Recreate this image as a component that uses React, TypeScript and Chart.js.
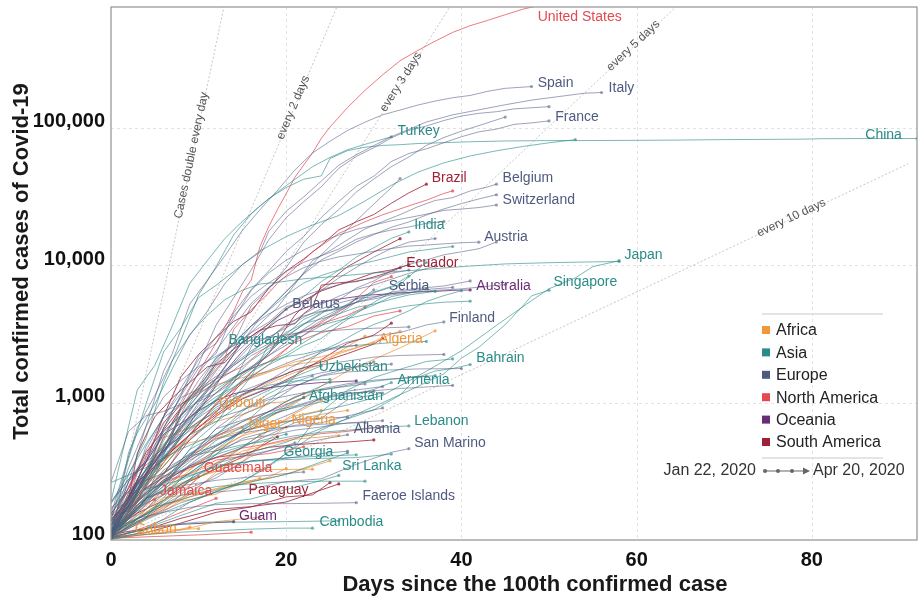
import React, { useEffect, useRef } from "react";
import { Chart, registerables } from "chart.js";

Chart.register(...registerables);

type Series = [string, number[]];

const FONT = '"Liberation Sans", Arial, Helvetica, sans-serif';

const X_TICKS = [0, 20, 40, 60, 80];
const Y_TICKS = [100, 1000, 10000, 100000];
const X_MAX = 92;
const Y_MIN = 100;
const Y_MAX = 760000;

const X_TITLE = "Days since the 100th confirmed case";
const Y_TITLE = "Total confirmed cases of Covid-19";

const CONTINENTS = ["Africa", "Asia", "Europe", "North America", "Oceania", "South America"];

// [country, [day, cases, day, cases, ...]]
const AFRICA: Series[] = [
  ["South Africa", [0, 116, 2, 202, 4, 274, 6, 554, 8, 927, 10, 1187, 12, 1353, 14, 1462, 16, 1585, 18, 1686, 20, 1845, 22, 1934, 24, 2028, 26, 2272, 28, 2506, 30, 2783, 32, 3158, 33, 3300]],
  ["Egypt", [0, 109, 3, 196, 6, 285, 9, 327, 12, 456, 15, 576, 18, 779, 21, 985, 24, 1322, 27, 1699, 30, 2065, 33, 2505, 37, 3333]],
  ["Morocco", [0, 115, 3, 225, 6, 345, 9, 556, 12, 791, 15, 1120, 18, 1374, 21, 1661, 24, 1888, 27, 2564, 29, 3046]],
  ["Algeria", [0, 139, 3, 230, 6, 367, 9, 584, 12, 986, 15, 1423, 18, 1666, 21, 1983, 24, 2160, 27, 2418, 30, 2718]],
  ["Cameroon", [0, 139, 3, 233, 6, 555, 9, 658, 12, 730, 15, 820, 18, 996, 20, 1017, 22, 1163]],
  ["Ghana", [0, 137, 3, 152, 6, 204, 9, 214, 12, 313, 15, 408, 18, 636, 21, 834, 24, 1042]],
  ["Cote d'Ivoire", [0, 101, 3, 168, 6, 218, 9, 323, 12, 444, 15, 574, 18, 654, 21, 801, 24, 879]],
  ["Tunisia", [0, 114, 3, 227, 6, 312, 9, 394, 12, 553, 15, 623, 18, 685, 21, 743, 24, 822, 27, 879]],
  ["Guinea", [0, 111, 3, 144, 6, 194, 9, 250, 12, 363, 15, 477, 17, 579]],
  ["Burkina Faso", [0, 114, 3, 180, 6, 261, 9, 302, 12, 364, 15, 443, 18, 497, 21, 542, 26, 576]],
  ["Senegal", [0, 105, 3, 130, 6, 175, 9, 207, 12, 237, 15, 265, 18, 280, 21, 314, 25, 377]],
  ["DR Congo", [0, 109, 3, 134, 6, 161, 9, 215, 12, 235, 15, 254, 18, 287, 20, 332]],
  ["Mauritius", [0, 102, 3, 143, 6, 196, 9, 273, 12, 318, 15, 324, 18, 325, 23, 328]],
  ["Kenya", [0, 122, 3, 142, 6, 184, 9, 197, 12, 216, 15, 262, 17, 281]],
  ["Niger", [0, 120, 2, 163, 4, 253, 6, 342, 8, 491, 10, 529, 12, 570, 15, 657]],
  ["Nigeria", [0, 111, 3, 174, 6, 232, 9, 276, 12, 318, 15, 373, 18, 542, 20, 665]],
  ["Djibouti", [0, 135, 2, 187, 4, 298, 6, 363, 8, 591, 10, 732, 12, 846]],
  ["Gabon", [0, 102, 3, 108, 6, 112, 9, 124]],
  ["Mali", [0, 116, 3, 144, 6, 171, 9, 216, 11, 224]],
  ["Rwanda", [0, 102, 4, 110, 8, 118, 12, 136, 17, 147]],
  ["Madagascar", [0, 102, 5, 117, 10, 121]],
];

const ASIA: Series[] = [
  ["China", [0, 120, 2, 300, 4, 548, 6, 1406, 8, 2877, 10, 6087, 12, 9802, 14, 16630, 16, 23707, 18, 30587, 20, 36814, 22, 42354, 24, 44759, 25, 59895, 27, 68413, 29, 72434, 31, 74619, 33, 75550, 35, 77022, 37, 77754, 39, 78600, 41, 79356, 45, 80422, 50, 80921, 55, 81003, 60, 81250, 65, 81661, 70, 82279, 75, 82602, 79, 82941, 81, 83500, 86, 83760, 92, 83817]],
  ["Iran", [0, 141, 2, 388, 4, 978, 6, 2336, 8, 3513, 10, 5823, 12, 7161, 14, 9000, 17, 12729, 20, 16169, 23, 19644, 26, 23049, 29, 29406, 32, 38309, 35, 47593, 38, 55743, 41, 62589, 44, 68192, 47, 73303, 50, 77995, 53, 82211]],
  ["South Korea", [0, 104, 1, 204, 2, 433, 3, 602, 5, 977, 7, 1766, 9, 3150, 11, 4335, 13, 5621, 15, 6593, 17, 7314, 19, 7513, 22, 7979, 25, 8236, 30, 8799, 35, 9241, 40, 9786, 45, 10237, 50, 10450, 55, 10591, 58, 10661]],
  ["Japan", [0, 105, 4, 147, 8, 256, 12, 349, 17, 581, 22, 814, 27, 963, 31, 1128, 36, 1693, 40, 2384, 44, 3654, 48, 5530, 50, 6748, 53, 8100, 55, 9787, 58, 10800]],
  ["Turkey", [0, 191, 1, 359, 2, 670, 3, 1236, 5, 1872, 7, 3629, 9, 7402, 11, 10827, 13, 15679, 15, 20921, 17, 27069, 19, 34109, 21, 42282, 23, 52167, 25, 61049, 27, 69392, 29, 76000, 32, 86306]],
  ["India", [0, 142, 2, 194, 4, 330, 6, 499, 8, 657, 10, 887, 12, 1024, 14, 1397, 16, 2543, 18, 3588, 20, 4778, 22, 5916, 24, 7600, 26, 9205, 28, 11487, 30, 13430, 32, 15722, 34, 17500]],
  ["Singapore", [0, 106, 5, 150, 10, 200, 15, 266, 19, 385, 24, 631, 29, 879, 31, 1000, 35, 1309, 38, 1623, 40, 2108, 42, 2532, 45, 3699, 47, 5050, 48, 5992, 50, 6588]],
  ["Bahrain", [0, 109, 5, 214, 10, 285, 15, 419, 20, 515, 25, 688, 30, 887, 33, 1136, 35, 1528, 37, 1700, 39, 1773, 41, 1895]],
  ["Israel", [0, 100, 2, 193, 4, 298, 6, 529, 8, 883, 10, 1238, 12, 2030, 14, 2693, 16, 3619, 18, 4695, 20, 6092, 22, 7428, 24, 8430, 26, 9248, 28, 10095, 30, 10743, 32, 11586, 34, 12501, 36, 12982, 39, 13713]],
  ["Saudi Arabia", [0, 103, 2, 171, 4, 274, 6, 392, 8, 562, 10, 900, 12, 1104, 14, 1299, 16, 1563, 18, 1885, 20, 2179, 22, 2605, 24, 2932, 26, 3651, 28, 4462, 30, 5369, 32, 6380, 34, 8274, 36, 10484]],
  ["Pakistan", [0, 187, 2, 302, 4, 501, 6, 776, 8, 972, 10, 1201, 12, 1495, 14, 1865, 16, 2291, 18, 2686, 20, 3157, 22, 4035, 24, 4601, 26, 4788, 28, 5716, 30, 6383, 32, 7025, 34, 8348]],
  ["Qatar", [0, 262, 4, 337, 8, 460, 12, 590, 16, 781, 20, 1325, 22, 1832, 24, 2376, 26, 2728, 28, 3231, 30, 3711, 32, 4103, 34, 4663, 36, 5448, 38, 6015, 40, 6533]],
  ["United Arab Emirates", [0, 113, 2, 153, 4, 248, 6, 405, 8, 570, 10, 814, 12, 1024, 14, 1505, 16, 1799, 18, 2359, 20, 2990, 22, 3736, 24, 4521, 26, 4933, 28, 5365, 30, 6302, 33, 7265]],
  ["Indonesia", [0, 117, 2, 172, 4, 309, 6, 450, 8, 579, 10, 790, 12, 1046, 14, 1285, 16, 1677, 18, 1986, 20, 2273, 22, 2738, 24, 3293, 26, 3842, 28, 4557, 30, 5136, 32, 5923, 34, 6248, 36, 6760]],
  ["Philippines", [0, 111, 2, 142, 4, 202, 6, 230, 8, 380, 10, 552, 12, 707, 14, 1075, 16, 1546, 18, 2633, 20, 3246, 22, 3764, 24, 4076, 26, 4428, 28, 4932, 30, 5223, 32, 5660, 34, 6087, 37, 6459]],
  ["Malaysia", [0, 117, 2, 149, 4, 197, 6, 428, 8, 673, 10, 900, 12, 1183, 14, 1518, 16, 2031, 18, 2470, 20, 2908, 22, 3333, 24, 3662, 26, 3963, 28, 4228, 30, 4530, 32, 4817, 34, 5072, 36, 5251, 38, 5389, 41, 5482]],
  ["Thailand", [0, 114, 2, 177, 4, 272, 6, 411, 8, 827, 10, 1045, 12, 1245, 14, 1524, 16, 1771, 18, 1978, 20, 2169, 22, 2258, 24, 2423, 26, 2551, 28, 2613, 30, 2672, 32, 2733, 34, 2765, 36, 2792]],
  ["Kuwait", [0, 100, 3, 112, 6, 142, 9, 189, 12, 225, 15, 266, 18, 342, 21, 479, 24, 855, 27, 1234, 30, 1524, 33, 1751, 36, 1995, 39, 2080]],
  ["Iraq", [0, 110, 4, 154, 8, 233, 12, 458, 16, 694, 20, 961, 24, 1232, 28, 1378, 32, 1482, 37, 1574]],
  ["Kazakhstan", [0, 111, 3, 228, 6, 343, 9, 584, 12, 727, 15, 990, 18, 1232, 21, 1546, 24, 1852]],
  ["Azerbaijan", [0, 122, 3, 209, 6, 400, 9, 641, 12, 926, 15, 1148, 18, 1340, 21, 1436, 25, 1480]],
  ["Uzbekistan", [0, 104, 3, 181, 6, 266, 9, 457, 12, 582, 15, 865, 18, 1165, 20, 1349, 23, 1565]],
  ["Armenia", [0, 115, 3, 194, 6, 265, 9, 372, 12, 532, 15, 663, 18, 822, 21, 921, 24, 1013, 27, 1111, 30, 1248, 32, 1401]],
  ["Afghanistan", [0, 110, 3, 170, 6, 273, 9, 423, 12, 484, 15, 607, 18, 784, 20, 933, 22, 1092]],
  ["Bangladesh", [0, 123, 2, 218, 4, 330, 6, 482, 8, 803, 10, 1231, 12, 1838, 14, 2456, 15, 2948]],
  ["Lebanon", [0, 120, 3, 163, 6, 304, 9, 412, 12, 446, 15, 494, 18, 527, 21, 575, 24, 609, 27, 630, 30, 658, 34, 677]],
  ["Sri Lanka", [0, 102, 4, 122, 8, 151, 12, 185, 16, 199, 20, 233, 24, 271, 26, 295]],
  ["Georgia", [0, 103, 5, 174, 10, 214, 15, 257, 20, 300, 24, 370, 27, 430]],
  ["Cambodia", [0, 103, 4, 110, 8, 114, 12, 117, 16, 120, 20, 122, 23, 122]],
  ["Vietnam", [0, 113, 4, 153, 8, 212, 12, 245, 16, 257, 20, 265, 24, 268, 29, 268]],
  ["Taiwan", [0, 108, 4, 195, 8, 283, 12, 339, 16, 376, 20, 385, 24, 393, 28, 398, 32, 422]],
  ["Jordan", [0, 112, 4, 235, 8, 274, 12, 349, 16, 372, 20, 397, 24, 407, 28, 417]],
  ["Kyrgyzstan", [0, 111, 4, 147, 8, 280, 12, 419, 16, 506, 20, 590]],
  ["Oman", [0, 109, 4, 167, 8, 277, 12, 419, 16, 727, 20, 1019, 25, 1410]],
  ["Brunei", [0, 104, 5, 126, 10, 135, 15, 135, 20, 136, 26, 138]],
];

const EUROPE: Series[] = [
  ["Spain", [0, 165, 2, 261, 4, 673, 5, 1073, 6, 1695, 7, 2277, 9, 5232, 11, 7798, 13, 11748, 15, 17963, 17, 25374, 19, 35136, 21, 49515, 23, 65719, 25, 80110, 27, 95923, 29, 110238, 31, 124736, 33, 135032, 35, 146690, 37, 157022, 39, 166019, 41, 172541, 43, 184948, 45, 194416, 48, 200210]],
  ["Italy", [0, 155, 3, 655, 5, 1128, 7, 2036, 9, 3089, 11, 4636, 13, 7375, 15, 10149, 17, 12462, 18, 17660, 20, 24747, 22, 31506, 24, 41035, 26, 53578, 28, 63927, 30, 74386, 32, 86498, 34, 97689, 36, 110574, 39, 124632, 42, 135586, 45, 147577, 48, 159516, 51, 168941, 54, 178972, 56, 181228]],
  ["Germany", [0, 130, 2, 196, 4, 482, 6, 795, 8, 1176, 10, 1908, 12, 3675, 14, 5795, 16, 9257, 18, 15320, 20, 22213, 22, 29056, 24, 37323, 26, 50871, 28, 62095, 30, 71808, 32, 84794, 34, 96092, 36, 103374, 38, 113296, 40, 122171, 42, 127854, 44, 131359, 46, 137698, 50, 143000]],
  ["France", [0, 100, 2, 191, 4, 285, 6, 653, 8, 1126, 10, 1784, 12, 2281, 14, 4499, 16, 6650, 18, 9105, 20, 12612, 22, 16243, 24, 22304, 26, 29155, 28, 37575, 30, 44550, 32, 56989, 34, 65202, 36, 70478, 38, 78167, 40, 86334, 42, 93790, 44, 98076, 46, 106206, 48, 108847, 50, 112606]],
  ["United Kingdom", [0, 116, 2, 209, 4, 323, 6, 459, 8, 801, 10, 1144, 12, 1960, 14, 2716, 16, 5067, 18, 6726, 20, 9640, 22, 14745, 24, 19780, 26, 25481, 28, 34173, 30, 42477, 32, 52279, 34, 61474, 36, 74605, 38, 85206, 40, 94845, 42, 104145, 45, 120067]],
  ["Netherlands", [0, 128, 2, 265, 4, 382, 6, 614, 8, 804, 10, 1139, 12, 1705, 14, 2460, 16, 3631, 18, 4764, 20, 6412, 22, 8647, 24, 10930, 26, 12667, 28, 14788, 30, 16727, 32, 18926, 34, 20682, 36, 23249, 38, 25746, 40, 28153, 42, 30449, 44, 32655]],
  ["Belgium", [0, 109, 2, 200, 4, 267, 7, 559, 9, 886, 11, 1243, 13, 1795, 15, 2815, 17, 3743, 19, 4937, 21, 7284, 23, 10836, 25, 12775, 27, 15348, 29, 18431, 31, 20814, 33, 23403, 35, 26667, 37, 29647, 39, 31119, 41, 34809, 43, 37183, 44, 39000]],
  ["Switzerland", [0, 114, 2, 268, 4, 374, 6, 652, 8, 1139, 10, 2200, 12, 2700, 14, 4075, 16, 6575, 18, 8795, 20, 10897, 22, 12928, 24, 14829, 26, 16605, 28, 18267, 30, 19606, 32, 21100, 34, 22253, 36, 23574, 38, 25107, 40, 25688, 42, 26336, 44, 27500]],
  ["Austria", [0, 104, 2, 182, 4, 302, 6, 655, 8, 1018, 10, 1646, 12, 2388, 14, 3582, 16, 5283, 18, 6909, 20, 8271, 22, 9618, 24, 10711, 26, 11524, 28, 12051, 30, 12640, 32, 13244, 34, 13806, 36, 14041, 38, 14336, 40, 14595, 42, 14749]],
  ["Sweden", [0, 137, 2, 203, 4, 326, 6, 620, 8, 814, 10, 1022, 12, 1167, 14, 1423, 16, 1746, 18, 2286, 20, 3069, 22, 3700, 24, 4435, 26, 5568, 28, 6830, 30, 7693, 32, 9141, 34, 10151, 36, 10948, 38, 11927, 40, 12540, 42, 13216, 44, 14777]],
  ["Portugal", [0, 112, 2, 245, 4, 448, 6, 785, 8, 1280, 10, 2060, 12, 2995, 14, 4268, 16, 5962, 18, 7443, 20, 9034, 22, 10524, 24, 11730, 26, 13141, 28, 15472, 30, 16934, 32, 18091, 34, 19022, 36, 20206, 38, 20863]],
  ["Ireland", [0, 129, 2, 169, 4, 292, 6, 557, 8, 906, 10, 1329, 12, 2121, 14, 2615, 16, 3235, 18, 3849, 20, 4994, 22, 5364, 24, 6574, 26, 8089, 28, 9655, 30, 11479, 32, 13271, 34, 14758, 37, 15652]],
  ["Russia", [0, 114, 3, 253, 8, 658, 13, 1836, 17, 4149, 21, 7497, 24, 11917, 27, 18328, 30, 27938, 32, 36793, 33, 42853]],
  ["Poland", [0, 111, 2, 177, 4, 287, 6, 425, 8, 634, 10, 901, 12, 1389, 14, 1862, 16, 2311, 18, 2946, 20, 3627, 22, 4413, 24, 5205, 26, 5955, 28, 6674, 30, 7202, 32, 7918, 34, 8742, 37, 9856]],
  ["Romania", [0, 184, 2, 277, 4, 367, 6, 576, 8, 906, 10, 1452, 12, 2109, 14, 2738, 16, 3613, 18, 4417, 20, 5202, 22, 5990, 24, 6633, 26, 7216, 28, 7707, 30, 8067, 32, 8746, 34, 9242]],
  ["Ukraine", [0, 113, 3, 218, 6, 475, 9, 804, 12, 1308, 15, 1668, 18, 2203, 21, 3102, 24, 4161, 27, 5106, 28, 5710]],
  ["Denmark", [0, 264, 2, 617, 4, 804, 6, 864, 8, 977, 10, 1151, 12, 1420, 14, 1724, 16, 2200, 18, 2577, 20, 2860, 22, 3290, 24, 3946, 26, 4681, 28, 5402, 30, 5819, 32, 6369, 34, 6681, 36, 6876, 38, 7073, 41, 7695]],
  ["Norway", [0, 108, 2, 176, 4, 400, 6, 702, 8, 1090, 10, 1256, 12, 1550, 14, 1914, 16, 2383, 18, 2866, 20, 3755, 22, 4284, 24, 4641, 26, 4863, 28, 5370, 30, 5687, 32, 6086, 34, 6314, 36, 6525, 38, 6623, 40, 6740, 42, 6937, 45, 7241]],
  ["Czechia", [0, 116, 2, 189, 4, 298, 6, 464, 8, 765, 10, 1047, 12, 1394, 14, 1925, 16, 2631, 18, 3001, 20, 3508, 22, 4190, 24, 4822, 26, 5312, 28, 5732, 30, 5902, 32, 6216, 34, 6549, 37, 6746, 39, 6900]],
  ["Serbia", [0, 135, 3, 249, 6, 384, 9, 741, 12, 1060, 15, 1624, 18, 2200, 21, 2867, 24, 3630, 27, 4873, 30, 6630]],
  ["Belarus", [0, 152, 2, 163, 4, 304, 6, 440, 8, 700, 10, 1066, 12, 1486, 14, 2226, 16, 2919, 18, 3728, 20, 4779]],
  ["Finland", [0, 155, 3, 272, 6, 450, 9, 700, 12, 958, 15, 1218, 18, 1446, 21, 1882, 24, 2308, 27, 2769, 30, 3064, 33, 3237, 36, 3681, 38, 3868]],
  ["Luxembourg", [0, 140, 2, 335, 4, 670, 6, 1099, 8, 1453, 10, 1831, 12, 2178, 14, 2612, 16, 2843, 18, 2970, 20, 3115, 22, 3281, 24, 3307, 26, 3373, 28, 3444, 30, 3480, 34, 3558]],
  ["Hungary", [0, 103, 3, 167, 6, 261, 9, 408, 12, 585, 15, 817, 18, 980, 21, 1310, 24, 1579, 27, 1763, 30, 1984]],
  ["Greece", [0, 190, 3, 331, 6, 464, 9, 624, 12, 892, 15, 1156, 18, 1415, 21, 1735, 24, 1884, 27, 2011, 30, 2145, 33, 2207, 38, 2245]],
  ["Croatia", [0, 105, 3, 254, 6, 442, 9, 657, 12, 867, 15, 1079, 18, 1282, 21, 1495, 24, 1650, 27, 1791, 30, 1871, 32, 1908]],
  ["Slovenia", [0, 141, 3, 219, 6, 286, 9, 383, 12, 480, 15, 632, 18, 802, 21, 934, 24, 1059, 27, 1160, 30, 1220, 33, 1268, 39, 1335]],
  ["Estonia", [0, 171, 3, 258, 6, 306, 9, 404, 12, 645, 15, 745, 18, 858, 21, 1108, 24, 1258, 27, 1373, 30, 1459, 36, 1552]],
  ["Iceland", [0, 103, 3, 156, 6, 250, 9, 409, 12, 648, 15, 890, 18, 1086, 21, 1319, 24, 1562, 27, 1675, 30, 1711, 35, 1760, 40, 1771]],
  ["Lithuania", [0, 131, 3, 209, 6, 382, 9, 533, 12, 771, 15, 880, 18, 1053, 21, 1149, 24, 1239, 29, 1370]],
  ["Moldova", [0, 109, 3, 177, 6, 298, 9, 591, 12, 965, 15, 1438, 18, 1712, 21, 2049, 24, 2378, 28, 2614]],
  ["Bosnia and Herzegovina", [0, 126, 3, 191, 6, 323, 9, 420, 12, 579, 15, 674, 18, 858, 21, 946, 24, 1083, 27, 1214, 31, 1309]],
  ["North Macedonia", [0, 114, 3, 177, 6, 259, 9, 354, 12, 483, 15, 617, 18, 711, 21, 854, 24, 1081, 27, 1170, 30, 1207]],
  ["Bulgaria", [0, 127, 3, 201, 6, 264, 9, 346, 12, 422, 15, 549, 18, 618, 21, 685, 24, 713, 27, 800, 31, 915]],
  ["Slovakia", [0, 137, 3, 191, 6, 292, 9, 336, 12, 400, 15, 471, 18, 581, 21, 715, 24, 769, 27, 1049, 31, 1173]],
  ["Latvia", [0, 111, 3, 180, 6, 244, 9, 347, 12, 446, 15, 533, 18, 577, 21, 630, 24, 666, 27, 712, 31, 739]],
  ["Albania", [0, 104, 3, 174, 6, 212, 9, 277, 12, 361, 15, 409, 18, 446, 21, 494, 24, 539, 27, 584]],
  ["Andorra", [0, 113, 3, 188, 6, 308, 9, 428, 12, 545, 15, 601, 18, 646, 21, 673, 24, 696, 29, 717]],
  ["Cyprus", [0, 116, 3, 162, 6, 262, 9, 396, 12, 494, 15, 616, 18, 695, 21, 750, 24, 772, 27, 784]],
  ["San Marino", [0, 101, 4, 144, 8, 187, 12, 223, 16, 236, 20, 266, 24, 279, 28, 356, 32, 435, 34, 462]],
  ["Malta", [0, 110, 4, 156, 8, 202, 12, 299, 16, 378, 20, 393, 24, 426, 27, 443]],
  ["Faeroe Islands", [0, 118, 3, 144, 6, 159, 9, 173, 12, 181, 16, 184, 20, 184, 24, 185, 28, 187]],
  ["Kosovo", [0, 106, 4, 145, 8, 227, 12, 283, 16, 406, 21, 510]],
  ["Montenegro", [0, 105, 4, 201, 8, 248, 12, 272, 16, 288, 22, 313]],
];

const NORTH_AMERICA: Series[] = [
  ["United States", [0, 100, 1, 118, 3, 217, 5, 402, 7, 583, 8, 959, 10, 1663, 12, 2727, 14, 4632, 15, 6421, 16, 7786, 17, 13680, 18, 19101, 19, 25493, 20, 33276, 21, 43847, 22, 53740, 23, 65778, 24, 83836, 25, 101657, 27, 140909, 29, 188172, 31, 243622, 33, 308650, 35, 366317, 37, 428654, 39, 496535, 41, 555313, 43, 607670, 45, 667801, 47, 732197, 49, 784326]],
  ["Canada", [0, 108, 2, 142, 4, 252, 6, 471, 9, 1087, 11, 1469, 13, 2088, 14, 3409, 16, 4757, 18, 6280, 19, 7398, 21, 9560, 23, 12519, 24, 13882, 26, 17063, 29, 20765, 31, 23318, 34, 27063, 36, 29812, 38, 33383, 39, 34800]],
  ["Mexico", [0, 118, 3, 251, 6, 405, 9, 585, 12, 993, 15, 1378, 18, 1890, 21, 2785, 24, 3844, 27, 5014, 30, 7497, 32, 8261]],
  ["Dominican Republic", [0, 112, 3, 312, 6, 719, 9, 1109, 12, 1488, 15, 1828, 18, 2620, 21, 3167, 24, 3755, 27, 4335, 29, 4964]],
  ["Panama", [0, 137, 3, 313, 6, 443, 9, 786, 12, 1181, 15, 1673, 18, 1988, 21, 2752, 24, 3234, 27, 3574, 30, 4273, 33, 4658]],
  ["Cuba", [0, 139, 3, 212, 6, 288, 9, 396, 12, 564, 15, 726, 18, 862, 21, 1035, 22, 1087]],
  ["Honduras", [0, 110, 3, 172, 6, 268, 9, 305, 12, 382, 15, 407, 18, 426, 22, 477]],
  ["Costa Rica", [0, 113, 3, 158, 6, 231, 9, 347, 12, 396, 15, 467, 18, 502, 21, 558, 24, 595, 27, 618, 31, 669]],
  ["Guatemala", [0, 102, 3, 137, 6, 167, 8, 214, 10, 289]],
  ["Jamaica", [0, 105, 2, 125, 3, 143, 5, 196]],
  ["El Salvador", [0, 103, 4, 125, 8, 159, 12, 201]],
  ["Trinidad and Tobago", [0, 103, 5, 106, 10, 109, 16, 114]],
];

const OCEANIA: Series[] = [
  ["Australia", [0, 107, 1, 128, 3, 200, 5, 297, 7, 452, 9, 709, 11, 1071, 13, 1682, 15, 2364, 17, 3166, 19, 3966, 21, 4559, 23, 5136, 25, 5550, 27, 5795, 29, 6052, 31, 6152, 33, 6303, 35, 6400, 37, 6462, 39, 6565, 41, 6619]],
  ["New Zealand", [0, 102, 2, 205, 4, 368, 6, 589, 8, 708, 10, 868, 12, 1039, 14, 1160, 16, 1239, 18, 1283, 20, 1330, 22, 1366, 24, 1401, 28, 1440]],
  ["Guam", [0, 110, 4, 121, 8, 130, 11, 133, 14, 136]],
];

const SOUTH_AMERICA: Series[] = [
  ["Brazil", [0, 151, 2, 200, 4, 372, 6, 793, 8, 1546, 10, 2247, 12, 2985, 14, 3904, 16, 4579, 18, 6836, 20, 9056, 22, 11130, 24, 14034, 26, 18092, 28, 20727, 30, 23430, 32, 28320, 34, 33682, 36, 39000]],
  ["Peru", [0, 117, 3, 263, 6, 395, 9, 580, 12, 852, 15, 1414, 18, 2281, 21, 4342, 24, 6848, 27, 9784, 30, 12491, 33, 15628]],
  ["Chile", [0, 155, 2, 238, 4, 434, 6, 632, 8, 922, 10, 1306, 12, 1909, 14, 2449, 16, 3031, 18, 3737, 20, 4815, 22, 5546, 24, 6501, 26, 7213, 28, 7917, 30, 8807, 32, 9252, 34, 10088]],
  ["Ecuador", [0, 111, 2, 199, 3, 426, 5, 789, 7, 1082, 9, 1403, 11, 1823, 13, 1962, 15, 2748, 17, 3368, 19, 3646, 21, 3747, 22, 4450, 23, 4965, 24, 7161, 26, 7466, 28, 7603, 30, 8225, 32, 9022, 33, 9600]],
  ["Colombia", [0, 102, 3, 210, 6, 306, 9, 539, 12, 798, 15, 1065, 18, 1267, 21, 1579, 24, 2054, 27, 2709, 30, 3105, 32, 3792]],
  ["Argentina", [0, 128, 3, 266, 6, 387, 9, 589, 12, 820, 15, 1133, 18, 1451, 21, 1715, 24, 1975, 27, 2277, 30, 2669, 31, 2941]],
  ["Bolivia", [0, 115, 3, 157, 6, 194, 9, 268, 12, 330, 15, 400, 19, 564]],
  ["Uruguay", [0, 110, 3, 189, 6, 274, 9, 338, 12, 400, 15, 424, 18, 473, 21, 494, 24, 508, 27, 517, 30, 535]],
  ["Paraguay", [0, 104, 4, 113, 8, 133, 12, 159, 16, 174, 20, 206, 23, 213, 25, 262]],
  ["Venezuela", [0, 106, 4, 119, 8, 144, 12, 167, 16, 175, 20, 189, 26, 256]],
];

// [text, continent, day, cases] — anchor (left, middle) of each country label
const LABELS: [string, string, number, number][] = [
  ["United States", "North America", 48.7, 641000],
  ["Spain", "Europe", 48.7, 212000],
  ["Italy", "Europe", 56.8, 195000],
  ["France", "Europe", 50.7, 120000],
  ["Turkey", "Asia", 32.7, 95000],
  ["China", "Asia", 86.1, 89000],
  ["Brazil", "South America", 36.6, 43000],
  ["Belgium", "Europe", 44.7, 43000],
  ["Switzerland", "Europe", 44.7, 29900],
  ["India", "Asia", 34.6, 19700],
  ["Austria", "Europe", 42.6, 16100],
  ["Japan", "Asia", 58.6, 11900],
  ["Ecuador", "South America", 33.7, 10400],
  ["Singapore", "Asia", 50.5, 7590],
  ["Serbia", "Europe", 31.7, 7100],
  ["Australia", "Oceania", 41.7, 7100],
  ["Belarus", "Europe", 20.7, 5250],
  ["Finland", "Europe", 38.6, 4150],
  ["Bangladesh", "Asia", 13.4, 2870],
  ["Algeria", "Africa", 30.6, 2920],
  ["Bahrain", "Asia", 41.7, 2120],
  ["Uzbekistan", "Asia", 23.7, 1800],
  ["Armenia", "Asia", 32.7, 1470],
  ["Afghanistan", "Asia", 22.6, 1120],
  ["Djibouti", "Africa", 12.3, 1000],
  ["Lebanon", "Asia", 34.6, 728],
  ["Niger", "Africa", 15.7, 692],
  ["Nigeria", "Africa", 20.6, 740],
  ["Albania", "Europe", 27.7, 637],
  ["San Marino", "Europe", 34.6, 504],
  ["Georgia", "Asia", 19.7, 433],
  ["Guatemala", "North America", 10.6, 331],
  ["Sri Lanka", "Asia", 26.4, 343],
  ["Jamaica", "North America", 5.6, 225],
  ["Paraguay", "South America", 15.7, 229],
  ["Faeroe Islands", "Europe", 28.7, 207],
  ["Guam", "Oceania", 14.6, 148],
  ["Cambodia", "Asia", 23.8, 134],
  ["Gabon", "Africa", 2.7, 119],
];

const DOUBLING_DAYS = [1, 2, 3, 5, 10];
const DOUBLING_TEXT = ["Cases double every day", "every 2 days", "every 3 days", "every 5 days", "every 10 days"];
const DOUBLING_LABEL_DAY = [9.3, 20.9, 33.2, 59.7, 77.7];
const GUIDE_END_DAY = 91;

const DATE_FROM = "Jan 22, 2020";
const DATE_TO = "Apr 20, 2020";

const LINE_COLOR: Record<string, string> = {
  Africa: "rgba(242,146,52,0.72)",
  Asia: "rgba(42,140,136,0.62)",
  Europe: "rgba(78,88,128,0.55)",
  "North America": "rgba(229,72,77,0.72)",
  Oceania: "rgba(106,44,118,0.8)",
  "South America": "rgba(158,34,54,0.8)",
};
const TEXT_COLOR: Record<string, string> = {
  Africa: "#F2963A",
  Asia: "#2A8C88",
  Europe: "#4E5A80",
  "North America": "#E5484D",
  Oceania: "#6A2C76",
  "South America": "#9E2236",
};

const GROUPS: [string, Series[]][] = [
  ["Europe", EUROPE],
  ["Asia", ASIA],
  ["North America", NORTH_AMERICA],
  ["Africa", AFRICA],
  ["South America", SOUTH_AMERICA],
  ["Oceania", OCEANIA],
];

function buildDatasets(): any[] {
  const out: any[] = [];
  for (const [cont, list] of GROUPS) {
    for (const [name, flat] of list) {
      const data: { x: number; y: number }[] = [];
      for (let i = 0; i < flat.length; i += 2) data.push({ x: flat[i], y: flat[i + 1] });
      const last = data.length - 1;
      out.push({
        label: name,
        data,
        borderColor: LINE_COLOR[cont],
        backgroundColor: LINE_COLOR[cont],
        borderWidth: 1,
        pointRadius: (c: any) => (c.dataIndex === last ? 1.6 : 0),
        pointBorderWidth: 0,
        pointHoverRadius: 0,
        tension: 0,
        fill: false,
        order: 1,
      });
    }
  }
  DOUBLING_DAYS.forEach((d) => {
    out.push({
      label: "double " + d,
      data: [
        { x: 0, y: 100 },
        { x: GUIDE_END_DAY, y: 100 * Math.pow(2, GUIDE_END_DAY / d) },
      ],
      borderColor: "rgba(160,160,160,0.6)",
      borderWidth: 1,
      borderDash: [2, 2],
      pointRadius: 0,
      tension: 0,
      fill: false,
      order: 10,
    });
  });
  return out;
}

const overlayPlugin = {
  id: "overlay",
  beforeDatasetsDraw(chart: any) {
    const { ctx, chartArea: a, scales } = chart;
    const xs = scales.x;
    const ys = scales.y;
    ctx.save();
    ctx.strokeStyle = "#e2e2e2";
    ctx.lineWidth = 1;
    ctx.setLineDash([3, 3]);
    X_TICKS.forEach((v) => {
      if (v === 0) return;
      const x = Math.round(xs.getPixelForValue(v)) + 0.5;
      ctx.beginPath();
      ctx.moveTo(x, a.top);
      ctx.lineTo(x, a.bottom);
      ctx.stroke();
    });
    Y_TICKS.forEach((v) => {
      if (v === Y_MIN) return;
      const y = Math.round(ys.getPixelForValue(v)) + 0.5;
      ctx.beginPath();
      ctx.moveTo(a.left, y);
      ctx.lineTo(a.right, y);
      ctx.stroke();
    });
    ctx.restore();
  },
  afterDatasetsDraw(chart: any) {
    const { ctx, chartArea: a, scales } = chart;
    const xs = scales.x;
    const ys = scales.y;
    ctx.save();
    // doubling guide labels
    ctx.font = `12px ${FONT}`;
    ctx.fillStyle = "#555";
    ctx.textAlign = "center";
    ctx.textBaseline = "middle";
    DOUBLING_DAYS.forEach((d, i) => {
      const x0 = xs.getPixelForValue(0);
      const y0 = ys.getPixelForValue(100);
      const x1 = xs.getPixelForValue(40);
      const y1 = ys.getPixelForValue(100 * Math.pow(2, 40 / d));
      const ang = Math.atan2(y1 - y0, x1 - x0);
      const L = DOUBLING_LABEL_DAY[i];
      const px = xs.getPixelForValue(L);
      const py = ys.getPixelForValue(100 * Math.pow(2, L / d));
      ctx.save();
      ctx.translate(px, py);
      ctx.rotate(ang);
      ctx.fillText(DOUBLING_TEXT[i], 0, -1);
      ctx.restore();
    });
    // country labels
    ctx.font = `14px ${FONT}`;
    ctx.textAlign = "left";
    ctx.textBaseline = "middle";
    LABELS.forEach(([t, cont, d, v]) => {
      ctx.fillStyle = TEXT_COLOR[cont];
      ctx.fillText(t, xs.getPixelForValue(d), ys.getPixelForValue(v));
    });
    // panel border
    ctx.strokeStyle = "#9a9a9a";
    ctx.lineWidth = 1.3;
    ctx.setLineDash([]);
    ctx.strokeRect(a.left, a.top, a.right - a.left, a.bottom - a.top);
    ctx.restore();
  },
  afterDraw(chart: any) {
    const { ctx, chartArea: a } = chart;
    ctx.save();
    // axis titles
    ctx.fillStyle = "#1a1a1a";
    ctx.font = `bold 22px ${FONT}`;
    ctx.textAlign = "center";
    ctx.textBaseline = "middle";
    ctx.fillText(X_TITLE, (a.left + a.right) / 2 + 21, 585);
    ctx.save();
    ctx.translate(22, (a.top + a.bottom) / 2 - 12);
    ctx.rotate(-Math.PI / 2);
    ctx.fillText(Y_TITLE, 0, 0);
    ctx.restore();

    // legend
    const lx = 762;
    ctx.strokeStyle = "#dcdcdc";
    ctx.lineWidth = 1.5;
    ctx.beginPath();
    ctx.moveTo(lx, 314);
    ctx.lineTo(883, 314);
    ctx.moveTo(lx, 458);
    ctx.lineTo(883, 458);
    ctx.stroke();
    ctx.font = `16px ${FONT}`;
    ctx.textAlign = "left";
    ctx.textBaseline = "middle";
    CONTINENTS.forEach((c, i) => {
      const y = 330 + i * 22.4;
      ctx.fillStyle = TEXT_COLOR[c];
      ctx.fillRect(lx, y - 4, 8, 8);
      ctx.fillStyle = "#222";
      ctx.fillText(c, 776, y + 1);
    });

    // date arrow
    const dy = 471;
    ctx.fillStyle = "#333";
    ctx.textAlign = "right";
    ctx.fillText(DATE_FROM, 756, dy);
    ctx.textAlign = "left";
    ctx.fillText(DATE_TO, 813, dy);
    ctx.strokeStyle = "#666";
    ctx.fillStyle = "#666";
    ctx.lineWidth = 1;
    ctx.beginPath();
    ctx.moveTo(765, dy);
    ctx.lineTo(805, dy);
    ctx.stroke();
    [765, 778, 792].forEach((x) => {
      ctx.beginPath();
      ctx.arc(x, dy, 2, 0, Math.PI * 2);
      ctx.fill();
    });
    ctx.beginPath();
    ctx.moveTo(810, dy);
    ctx.lineTo(803, dy - 3.5);
    ctx.lineTo(803, dy + 3.5);
    ctx.closePath();
    ctx.fill();
    ctx.restore();
  },
};

export default function App() {
  const ref = useRef<HTMLCanvasElement | null>(null);
  useEffect(() => {
    if (!ref.current) return;
    Chart.defaults.font.family = FONT;
    const chart = new Chart(ref.current, {
      type: "line",
      data: { datasets: buildDatasets() },
      options: {
        responsive: true,
        maintainAspectRatio: false,
        animation: false,
        devicePixelRatio: 1,
        events: [],
        layout: { padding: { top: 7, right: 4, left: 0, bottom: 0 } },
        plugins: { legend: { display: false }, tooltip: { enabled: false } },
        scales: {
          x: {
            type: "linear",
            min: 0,
            max: X_MAX,
            grid: { display: false, drawTicks: false },
            border: { display: false },
            afterBuildTicks: (s: any) => {
              s.ticks = X_TICKS.map((v) => ({ value: v }));
            },
            afterFit: (s: any) => {
              s.height = 58;
              s.paddingLeft = 0;
              s.paddingRight = 0;
            },
            ticks: {
              color: "#111",
              padding: 8,
              maxRotation: 0,
              font: { family: FONT, size: 20, weight: "bold" },
              callback: (v: any) => String(v),
            },
          },
          y: {
            type: "logarithmic",
            min: Y_MIN,
            max: Y_MAX,
            grid: { display: false, drawTicks: false },
            border: { display: false },
            afterBuildTicks: (s: any) => {
              s.ticks = Y_TICKS.map((v) => ({ value: v }));
            },
            afterFit: (s: any) => {
              s.width = 111;
              s.paddingTop = 0;
              s.paddingBottom = 0;
            },
            ticks: {
              color: "#111",
              padding: 6,
              labelOffset: -6,
              font: { family: FONT, size: 20, weight: "bold" },
              callback: (v: any) => Number(v).toLocaleString("en-US"),
            },
          },
        },
      } as any,
      plugins: [overlayPlugin],
    });
    return () => chart.destroy();
  }, []);
  return (
    <div style={{ position: "absolute", left: 0, top: 0, width: 921, height: 598, background: "#fff" }}>
      <canvas ref={ref} />
    </div>
  );
}
